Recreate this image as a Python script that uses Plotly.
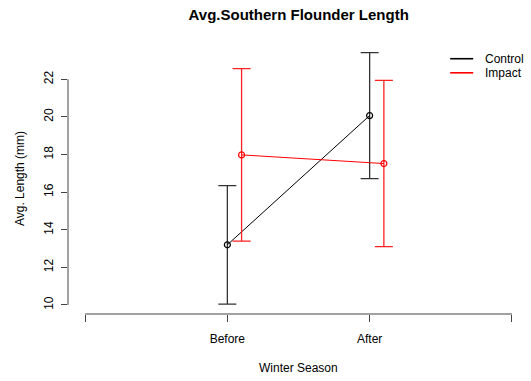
import plotly.graph_objects as go

# Winter season groups and axis positions
seasons = ["Before", "After"]
season_pos = [1, 2]
impact_offset = 0.1

# Average length (mm) and error bar half-widths
control_mean = [13.2, 20.07]
control_err = [3.15, 3.35]
impact_mean = [17.98, 17.52]
impact_err = [4.59, 4.42]

y_ticks = [10, 12, 14, 16, 18, 20, 22]
x_ticks = [0, 1, 2, 3]
x_ticktext = ["", "Before", "After", ""]

legend_names = ["Control", "Impact"]
legend_colors = ["black", "red"]

FONT = "Liberation Sans, Arial, sans-serif"
AXIS_COLOR = "#444444"

fig = go.Figure()

fig.add_trace(go.Scatter(
    x=season_pos, y=control_mean, mode="lines+markers",
    line=dict(color="black", width=1),
    marker=dict(symbol="circle-open", size=6, color="black", line=dict(width=1.2)),
    error_y=dict(type="data", array=control_err, visible=True,
                 color="#333333", thickness=1.3, width=9),
    showlegend=False, name="Control",
))

impact_x = [p + impact_offset for p in season_pos]
fig.add_trace(go.Scatter(
    x=impact_x, y=impact_mean, mode="lines+markers",
    line=dict(color="red", width=1),
    marker=dict(symbol="circle-open", size=6, color="red", line=dict(width=1.2)),
    error_y=dict(type="data", array=impact_err, visible=True,
                 color="#ff2020", thickness=1.3, width=9),
    showlegend=False, name="Impact",
))

# Axis lines spanning only the tick range
fig.add_shape(type="line", xref="paper", yref="y", x0=0, x1=0,
              y0=y_ticks[0], y1=y_ticks[-1], line=dict(color=AXIS_COLOR, width=1))
fig.add_shape(type="line", xref="x", yref="paper", x0=x_ticks[0], x1=x_ticks[-1],
              y0=0, y1=0, line=dict(color=AXIS_COLOR, width=1))

# x-axis title placed below the tick labels
fig.add_annotation(xref="paper", yref="paper", x=0.5, y=0, yshift=-54,
                   text="Winter Season", showarrow=False,
                   xanchor="center", yanchor="middle",
                   font=dict(size=12, family=FONT, color="black"))

# Compact legend in the top-right corner: line sample plus label
leg_x0, leg_x1, leg_tx = 0.829, 0.879, 0.9
leg_y0, leg_dy = 0.942, 0.052
for i, (name, col) in enumerate(zip(legend_names, legend_colors)):
    yy = leg_y0 - i * leg_dy
    fig.add_shape(type="line", xref="paper", yref="paper", x0=leg_x0, x1=leg_x1,
                  y0=yy, y1=yy, line=dict(color=col, width=1.6))
    fig.add_annotation(xref="paper", yref="paper", x=leg_tx, y=yy, text=name,
                       showarrow=False, xanchor="left", yanchor="middle",
                       font=dict(size=12, family=FONT, color="black"))

fig.update_layout(
    width=531, height=381,
    margin=dict(l=68, r=2, t=43, b=67),
    paper_bgcolor="white", plot_bgcolor="white",
    font=dict(family=FONT, size=12, color="black"),
    showlegend=False,
    title=dict(text="<b>Avg.Southern Flounder Length</b>", x=0.5625, xanchor="center",
               y=0.962, yanchor="middle", font=dict(size=15, family=FONT)),
    xaxis=dict(range=[-0.12, 3.12], tickvals=x_ticks, ticktext=x_ticktext,
               showgrid=False, zeroline=False, showline=False, automargin=False,
               ticks="outside", ticklen=7, tickcolor=AXIS_COLOR, tickwidth=1,
               ticklabelstandoff=7, tickfont=dict(size=12)),
    yaxis=dict(range=[9.52, 23.93], tickvals=y_ticks, tickangle=-90,
               showgrid=False, zeroline=False, showline=False, automargin=False,
               ticks="outside", ticklen=6, tickcolor=AXIS_COLOR, tickwidth=1,
               ticklabelstandoff=3, tickfont=dict(size=12),
               title=dict(text="Avg. Length (mm)", font=dict(size=12))),
)

fig.write_html("out.html")
